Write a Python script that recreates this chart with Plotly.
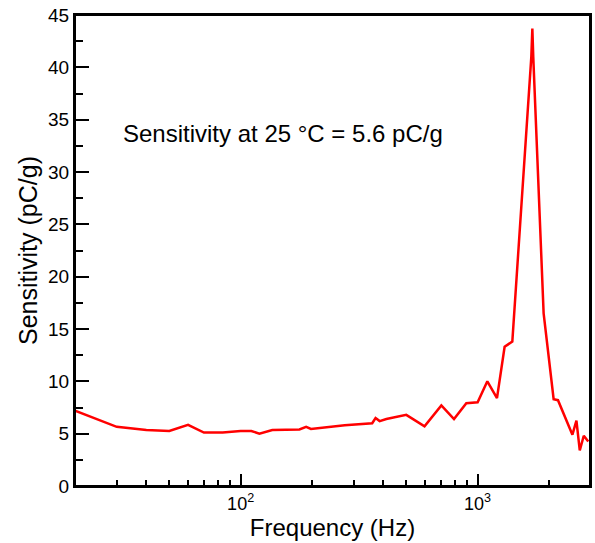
import plotly.graph_objects as go
import math

freq = [20, 30, 40, 50, 60, 70, 84, 100, 111, 120, 136, 165, 177, 189, 198, 275, 359, 371, 386, 412,
        500, 597, 703, 795, 896, 1000, 1099, 1207, 1300, 1401, 1685, 1702, 1717, 1899, 2093, 2183,
        2512, 2612, 2698, 2805, 2930]
sens = [7.2, 5.65, 5.35, 5.25, 5.85, 5.1, 5.1, 5.25, 5.25, 5.0, 5.35, 5.4, 5.4, 5.65, 5.45, 5.8, 6.0, 6.5, 6.2, 6.4,
        6.8, 5.7, 7.7, 6.4, 7.9, 8.0, 10.0, 8.4, 13.3, 13.8, 41.0, 43.7, 41.0, 16.5, 8.3, 8.2,
        4.9, 6.25, 3.4, 4.8, 4.25]

x_major = [100, 1000]
x_major_text = ["10<sup>2</sup>", "10<sup>3</sup>"]
x_minor = [30, 40, 50, 60, 70, 80, 90, 200, 300, 400, 500, 600, 700, 800, 900, 2000]

font_family = "Liberation Sans, Arial, sans-serif"

fig = go.Figure()
fig.add_trace(go.Scatter(x=freq, y=sens, mode="lines",
                         line=dict(color="#ff0000", width=2.5), showlegend=False))

fig.update_layout(
    width=595, height=543,
    margin=dict(l=75, r=5, t=15, b=57),
    paper_bgcolor="white", plot_bgcolor="white",
    font=dict(family=font_family, color="black", size=19),
    xaxis=dict(
        type="log", range=[math.log10(20), math.log10(2980)],
        tickmode="array", tickvals=x_major, ticktext=x_major_text,
        ticks="inside", ticklen=12, tickwidth=2, tickcolor="black",
        minor=dict(tickmode="array", tickvals=x_minor, ticks="inside", ticklen=6,
                   tickwidth=1.5, tickcolor="black", showgrid=False),
        showline=True, linecolor="black", linewidth=2, mirror=True,
        showgrid=False, zeroline=False, automargin=False,
        tickfont=dict(size=18),
        title=dict(text="Frequency (Hz)", font=dict(size=24), standoff=6),
    ),
    yaxis=dict(
        range=[0, 45], tickmode="linear", tick0=0, dtick=5,
        ticks="inside", ticklen=14, tickwidth=2, tickcolor="black",
        minor=dict(tick0=0, dtick=2.5, ticks="inside", ticklen=8,
                   tickwidth=1.5, tickcolor="black", showgrid=False),
        showline=True, linecolor="black", linewidth=2, mirror=True,
        showgrid=False, zeroline=False, automargin=False,
        tickfont=dict(size=19), ticklabeloverflow="allow",
        title=dict(text="Sensitivity (pC/g)", font=dict(size=25), standoff=3),
    ),
    shapes=[dict(type="rect", xref="paper", yref="paper", x0=0, x1=1, y0=0, y1=1,
                 line=dict(color="black", width=2), fillcolor="rgba(0,0,0,0)", layer="above")],
    annotations=[dict(
        text="Sensitivity at 25 °C = 5.6 pC/g", xref="paper", yref="paper",
        x=0.404, y=0.749, xanchor="center", yanchor="middle", showarrow=False,
        font=dict(size=24, family=font_family, color="black"),
    )],
)

fig.write_html("out.html", config={"displayModeBar": False},
               post_script="document.body.style.margin='0';document.body.style.overflow='hidden';")
